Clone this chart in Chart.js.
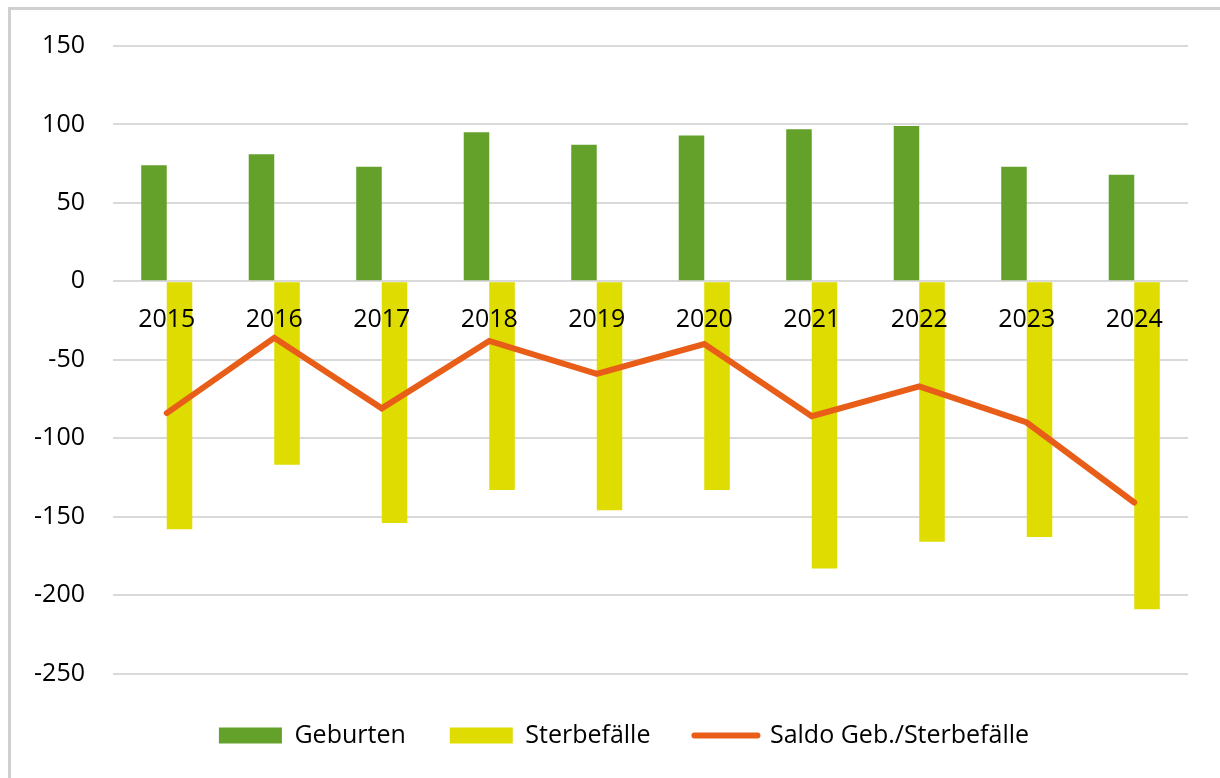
<!DOCTYPE html>
<html>
<head>
<meta charset="utf-8">
<script src="https://cdn.jsdelivr.net/npm/chart.js@4.4.1/dist/chart.umd.min.js"></script>
<style>
  html, body { margin: 0; padding: 0; background: #fff; overflow: hidden; }
  #frame { position: absolute; left: 8px; top: 7px; width: 1300px; height: 900px; border: 3px solid #d0d0d0; }
  #chart { position: absolute; left: 0; top: 0; }
</style>
</head>
<body>
<div id="frame"></div>
<canvas id="chart" width="1220" height="778"></canvas>
<script>
const years = ["2015", "2016", "2017", "2018", "2019", "2020", "2021", "2022", "2023", "2024"];
const geburten = [74, 81, 73, 95, 87, 93, 97, 99, 73, 68];
const sterbefaelle = [-158, -117, -154, -133, -146, -133, -183, -166, -163, -209];
const saldo = [-84, -36, -81, -38, -59, -40, -86, -67, -90, -141];
const yTicks = [-250, -200, -150, -100, -50, 0, 50, 100, 150];

const green = "#63a12a";
const yellow = "#dedc00";
const orange = "#e85d17";

Chart.defaults.font.family = "'Open Sans', sans-serif";
Chart.defaults.font.size = 25;
Chart.defaults.color = "#000";

// the legend sits a bit right of the plot's centre in the original
const legendShift = {
  id: "legendShift",
  beforeDraw(chart) {
    const lg = chart.legend;
    const w = lg.right - lg.left;
    lg.left = 30;
    lg.right = 30 + w;
  }
};

new Chart(document.getElementById("chart"), {
  type: "bar",
  data: {
    labels: years,
    datasets: [
      {
        label: "Geburten",
        data: geburten,
        backgroundColor: green,
        categoryPercentage: 0.475,
        barPercentage: 1.0,
        order: 1
      },
      {
        label: "Sterbefälle",
        data: sterbefaelle,
        backgroundColor: yellow,
        categoryPercentage: 0.475,
        barPercentage: 1.0,
        order: 1
      },
      {
        type: "line",
        label: "Saldo Geb./Sterbefälle",
        data: saldo,
        borderColor: orange,
        backgroundColor: orange,
        borderWidth: 6,
        borderCapStyle: "round",
        borderJoinStyle: "miter",
        pointRadius: 0,
        tension: 0,
        order: 0
      }
    ]
  },
  options: {
    responsive: false,
    animation: false,
    layout: { padding: { left: 0, right: 32, top: 46, bottom: 20 } },
    scales: {
      x: {
        position: { y: 0 },
        grid: { display: false, drawTicks: false },
        border: { display: false },
        ticks: { padding: 24, z: 1, font: { size: 25 } }
      },
      y: {
        min: yTicks[0],
        max: yTicks[yTicks.length - 1],
        afterFit: (scale) => { scale.width = 113; },
        afterBuildTicks: (scale) => { scale.ticks = yTicks.map(v => ({ value: v })); },
        grid: { color: "#d9d9d9", lineWidth: 2, drawTicks: false },
        border: { display: false },
        ticks: { padding: 28, font: { size: 25 } }
      }
    },
    plugins: {
      tooltip: { enabled: false },
      legend: {
        position: "bottom",
        title: { display: true, text: "", font: { size: 5, lineHeight: 1.1 }, padding: 0 },
        labels: {
          usePointStyle: true,
          pointStyleWidth: 63,
          boxHeight: 16,
          padding: 44,
          font: { size: 25 },
          generateLabels: (chart) => chart.data.datasets.map((ds, i) => {
            const isLine = ds.type === "line";
            return {
              text: ds.label,
              datasetIndex: i,
              fillStyle: ds.backgroundColor,
              strokeStyle: isLine ? ds.borderColor : ds.backgroundColor,
              lineWidth: isLine ? 6 : 0,
              lineCap: "round",
              pointStyle: isLine ? "line" : "rect",
              hidden: false
            };
          })
        }
      }
    }
  },
  plugins: [legendShift]
});
</script>
</body>
</html>
